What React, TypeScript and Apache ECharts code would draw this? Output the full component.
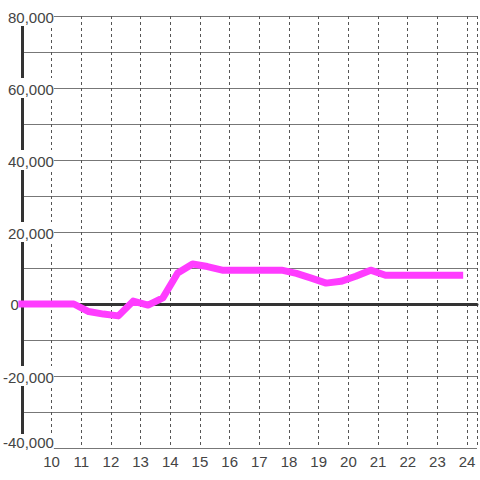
import React, { useEffect, useRef } from "react";
import * as echarts from "echarts";

const hours: number[] = [
  9, 9.25, 9.75, 10.25, 10.75, 11.25, 11.75, 12.25, 12.75, 13.25, 13.75, 14.25,
  14.75, 15.25, 15.75, 16.25, 16.75, 17.25, 17.75, 18.25, 18.75, 19.25, 19.75,
  20.25, 20.75, 21.25, 21.75, 22.25, 22.75, 23.25, 23.75,
];
const values: number[] = [
  0, 0, 0, 0, 0, -2100, -2800, -3300, 800, -300, 1700, 8600, 11100, 10400,
  9400, 9400, 9400, 9400, 9400, 8500, 7200, 5800, 6300, 7700, 9400, 8000, 8000,
  8000, 8000, 8000, 8000,
];
const xLabels: number[] = [10, 11, 12, 13, 14, 15, 16, 17, 18, 19, 20, 21, 22, 23, 24];
const yLabels: number[] = [-40000, -20000, 0, 20000, 40000, 60000, 80000];

export default function App() {
  const ref = useRef<HTMLDivElement>(null);
  useEffect(() => {
    if (!ref.current) return;
    const chart = echarts.init(ref.current, null, { renderer: "svg" });
    const fmt = (v: number) => v.toLocaleString("en-US");
    const font = "Liberation Sans, Arial, sans-serif";
    chart.setOption({
      animation: false,
      backgroundColor: "#fff",
      textStyle: { fontFamily: font },
      grid: { left: 20, right: 0, top: 16, bottom: 32, containLabel: false },
      xAxis: {
        type: "value",
        min: 9,
        max: 9 + 460 / 30,
        interval: 1,
        axisLine: { show: true, onZero: true, lineStyle: { color: "#333", width: 3 } },
        axisTick: { show: false },
        axisLabel: {
          color: "#444",
          fontSize: 15,
          margin: 6,
          fontFamily: font,
          formatter: (v: number) => (xLabels.indexOf(v) >= 0 ? String(v) : ""),
        },
        splitLine: {
          show: true,
          lineStyle: { color: "#555", width: 1, type: [3, 3] },
        },
      },
      yAxis: {
        type: "value",
        min: -40000,
        max: 80000,
        interval: 10000,
        axisLine: { show: true, onZero: false, lineStyle: { color: "#333", width: 3 } },
        axisTick: { show: false },
        axisLabel: {
          color: "#444",
          fontSize: 15,
          align: "right",
          margin: -32,
          fontFamily: font,
          formatter: (v: number) => {
            if (yLabels.indexOf(v) < 0) return "";
            if (v === 0) return "{z|0}";
            if (v === yLabels[0]) return "{b|" + fmt(v) + "}";
            return "{a|" + fmt(v) + "}";
          },
          rich: {
            a: {
              color: "#444",
              fontSize: 15,
              backgroundColor: "#fff",
              padding: [4, 0, 1, 0],
              fontFamily: font,
            },
            b: {
              color: "#444",
              fontSize: 15,
              backgroundColor: "#fff",
              padding: [1, 0, 12, 0],
              fontFamily: font,
            },
            z: {
              color: "#444",
              fontSize: 15,
              padding: [0, 35, 0, 0],
              fontFamily: font,
            },
          },
        },
        splitLine: { show: true, lineStyle: { color: "#777", width: 1 } },
      },
      series: [
        {
          type: "line",
          data: hours.map((h, i) => [h, values[i]]),
          showSymbol: false,
          symbol: "none",
          lineStyle: { color: "#ff3cff", width: 7, join: "round", cap: "square" },
          z: 5,
        },
      ],
    });
    return () => chart.dispose();
  }, []);
  return (
    <div
      ref={ref}
      style={{ position: "fixed", left: 0, top: 0, width: 480, height: 480 }}
    />
  );
}
